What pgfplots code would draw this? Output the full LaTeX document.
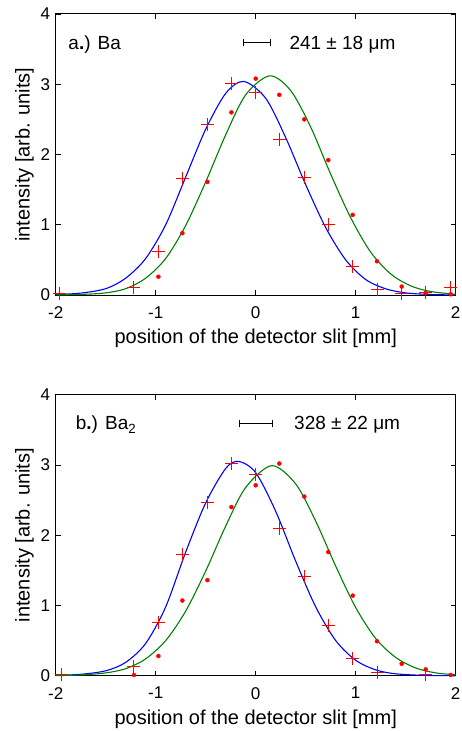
\documentclass[border=0pt]{standalone}
\usepackage{fontspec}
\setmainfont{Liberation Sans}
\usepackage{pgfplots}
\pgfplotsset{compat=1.18}

\definecolor{fitblue}{rgb}{0,0,1}
\definecolor{fitgreen}{rgb}{0,0.5,0}

\pgfplotsset{
  slitaxis/.style={
    width=400pt, height=281pt, scale only axis,
    xmin=-2, xmax=2, ymin=0, ymax=4,
    xtick={-2,-1,0,1,2}, ytick={0,1,2,3,4},
    tick align=inside, major tick length=5pt,
    axis line style={line width=1pt},
    every tick/.style={black, line width=0.8pt},
    tick label style={font=\fontsize{17}{20}\selectfont},
    xticklabel style={yshift=-8pt},
    yticklabel style={xshift=-2pt},
    label style={font=\fontsize{20}{24}\selectfont},
    xlabel style={yshift=-4pt},
    /pgf/number format/assume math mode=true,
    xlabel={position of the detector slit [mm]},
    ylabel={intensity [arb. units]},
    clip=false,
  },
  fitline/.style={no marks, line width=1.1pt, smooth},
  pcross/.style={only marks, color=red, mark=+, mark size=6.5pt,
    mark options={draw=red, line width=1pt, solid}},
  pdot/.style={only marks, color=red, mark=*, mark size=2pt,
    mark options={draw=red, fill=red}},
}
\tikzset{annot/.style={font=\fontsize{19}{22}\selectfont, inner sep=0pt, anchor=west}}

% panel a: Ba
\pgfplotstableread{
x y
-1.96 0.02
-1.217 0.11
-0.973 0.62
-0.733 1.66
-0.483 2.42
-0.243 3.01
0.0 2.88
0.236 2.22
0.483 1.67
0.726 1.01
0.97 0.40
1.213 0.08
1.46 0.02
1.70 0.03
1.95 0.10
}\crossA
\pgfplotstableread{
x y
-0.973 0.26
-0.733 0.88
-0.483 1.61
-0.243 2.60
0.0 3.08
0.236 2.85
0.486 2.50
0.726 1.92
0.97 1.14
1.213 0.48
1.46 0.12
1.70 0.03
1.95 0.01
}\dotA
\pgfplotstableread{
x y
-2.0 0.006
-1.75 0.027
-1.5 0.09
-1.3 0.24
-1.1 0.52
-0.9 1.00
-0.7 1.68
-0.5 2.36
-0.3 2.87
-0.12 3.04
0.1 2.80
0.3 2.24
0.5 1.57
0.7 0.96
0.9 0.50
1.1 0.22
1.3 0.088
1.5 0.03
1.75 0.007
2.0 0.001
}\blueA
\pgfplotstableread{
x y
-2.0 0.002
-1.75 0.008
-1.5 0.03
-1.3 0.09
-1.1 0.24
-0.9 0.52
-0.7 0.99
-0.5 1.61
-0.3 2.28
-0.1 2.85
0.14 3.12
0.35 2.91
0.55 2.39
0.75 1.72
0.95 1.10
1.15 0.61
1.35 0.30
1.55 0.13
1.75 0.05
2.0 0.01
}\greenA

% panel b: Ba2
\pgfplotstableread{
x y
-1.94 0.02
-1.217 0.13
-0.973 0.76
-0.733 1.73
-0.483 2.47
-0.243 3.02
0.0 2.86
0.236 2.10
0.486 1.41
0.726 0.72
0.97 0.24
1.213 0.05
1.70 0.02
}\crossB
\pgfplotstableread{
x y
-1.217 0.01
-0.973 0.28
-0.733 1.07
-0.483 1.36
-0.243 2.40
0.0 2.71
0.236 3.02
0.486 2.55
0.726 1.76
0.97 1.14
1.213 0.49
1.46 0.17
1.70 0.09
1.95 0.01
}\dotB
\pgfplotstableread{
x y
-2.0 0.005
-1.75 0.02
-1.5 0.07
-1.3 0.19
-1.1 0.46
-0.9 0.98
-0.7 1.76
-0.5 2.46
-0.3 2.95
-0.17 3.05
0.0 2.89
0.2 2.34
0.4 1.63
0.6 0.98
0.8 0.50
1.0 0.22
1.2 0.083
1.4 0.027
1.7 0.004
2.0 0.0
}\blueB
\pgfplotstableread{
x y
-2.0 0.002
-1.75 0.01
-1.5 0.04
-1.3 0.10
-1.1 0.24
-0.9 0.50
-0.7 0.92
-0.5 1.49
-0.3 2.13
-0.1 2.68
0.16 2.99
0.4 2.73
0.6 2.20
0.8 1.56
1.0 0.97
1.2 0.53
1.4 0.26
1.6 0.11
1.8 0.04
2.0 0.013
}\greenB

\begin{document}
\begin{tikzpicture}
\useasboundingbox (-55.7pt,295pt) rectangle (405.3pt,-436pt);

\begin{axis}[slitaxis, at={(0pt,0pt)}, anchor=south west]
\addplot[fitline, fitblue] table {\blueA};
\addplot[fitline, fitgreen] table {\greenA};
\addplot[pcross] table {\crossA};
\addplot[pdot] table {\dotA};
\addplot[black, line width=0.8pt, |-|] coordinates {(-0.13,3.59) (0.15,3.59)};
\node[annot] at (axis cs:-1.874,3.57) {a\textbf{.}) Ba};
\node[annot] at (axis cs:0.336,3.57) {241 ± 18 μm};
\end{axis}

\begin{axis}[slitaxis, at={(0pt,-380.7pt)}, anchor=south west]
\addplot[fitline, fitblue] table {\blueB};
\addplot[fitline, fitgreen] table {\greenB};
\addplot[pcross] table {\crossB};
\addplot[pdot] table {\dotB};
\addplot[black, line width=0.8pt, |-|] coordinates {(-0.17,3.585) (0.17,3.585)};
\node[annot] at (axis cs:-1.80,3.57) {b\textbf{.}) Ba\textsubscript{2}};
\node[annot] at (axis cs:0.383,3.57) {328 ± 22 μm};
\end{axis}
\end{tikzpicture}
\end{document}
